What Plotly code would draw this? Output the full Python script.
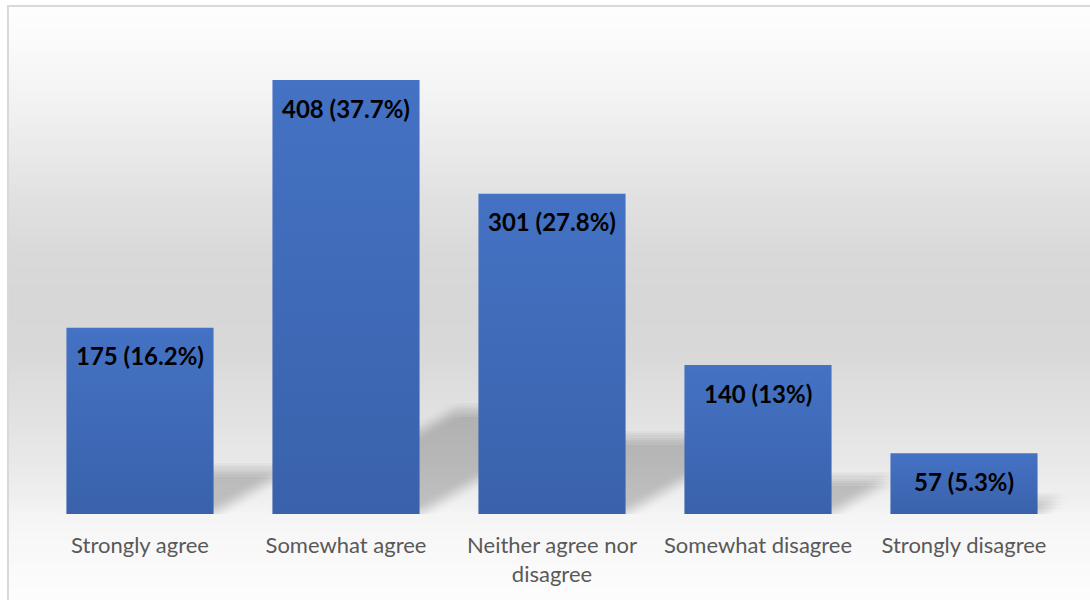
import base64
import struct
import zlib

import numpy as np
import plotly.graph_objects as go

# ---- data -------------------------------------------------------------
categories = [
    "Strongly agree",
    "Somewhat agree",
    "Neither agree nor<br>disagree",
    "Somewhat disagree",
    "Strongly disagree",
]
counts = [175, 408, 301, 140, 57]
percents = ["16.2%", "37.7%", "27.8%", "13%", "5.3%"]

# ---- geometry ---------------------------------------------------------
W, H = 1090, 600
ML, MR, MT, MB = 37, 23, 35, 86
PLOT_W = W - ML - MR
PLOT_H = H - MT - MB
Y_TOP = 450.3
PX_PER_UNIT = PLOT_H / Y_TOP
PX_PER_CAT = PLOT_W / 5.0
BAR_W = 0.714
BAR_COLOR = "#4472C4"


def png_data_uri(rgb):
    """Encode an (h, w, 3) uint8 array as a PNG data URI."""
    h, w, _ = rgb.shape
    raw = b"".join(b"\x00" + rgb[r].tobytes() for r in range(h))

    def chunk(tag, body):
        c = struct.pack(">I", len(body)) + tag + body
        return c + struct.pack(">I", zlib.crc32(tag + body) & 0xFFFFFFFF)

    png = (b"\x89PNG\r\n\x1a\n"
           + chunk(b"IHDR", struct.pack(">IIBBBBB", w, h, 8, 2, 0, 0, 0))
           + chunk(b"IDAT", zlib.compress(raw, 9))
           + chunk(b"IEND", b""))
    return "data:image/png;base64," + base64.b64encode(png).decode()


# soft vertical grey backdrop with a thin frame
ys = np.arange(H)
stops_y = [0, 6, 50, 100, 150, 200, 250, 300, 350, 400, 450, 500, 514, 540, 600]
stops_v = [255, 254, 250, 243, 234, 225, 218, 215, 217, 224, 231, 240, 245, 248, 253]
shade = np.interp(ys, stops_y, stops_v).astype(np.uint8)
bg = np.repeat(shade[:, None], W, axis=1)
bg = np.repeat(bg[:, :, None], 3, axis=2).copy()
bg[:5, :, :] = 255
bg[:, :7, :] = 255
bg[5:7, 7:, :] = 217
bg[5:, 7:9, :] = 217
backdrop = png_data_uri(bg)

fig = go.Figure()

# main bars
fig.add_trace(go.Bar(
    x=list(range(len(counts))),
    y=counts,
    width=BAR_W,
    marker=dict(color=BAR_COLOR, line=dict(width=0)),
    hoverinfo="skip",
    showlegend=False,
))

# darker toward the base of each bar
for i, v in enumerate(counts):
    hw = BAR_W / 2
    fig.add_trace(go.Scatter(
        x=[i - hw, i + hw, i + hw, i - hw, i - hw],
        y=[0, 0, v, v, 0],
        mode="none",
        fill="toself",
        fillgradient=dict(
            type="vertical",
            colorscale=[[0, "rgba(10,20,50,0.17)"], [1, "rgba(10,20,50,0)"]],
        ),
        hoverinfo="skip",
        showlegend=False,
    ))

# perspective shadows cast to the back-right, softened by stacking offset copies
shapes = []
offsets = np.linspace(-7, 7, 7)
alpha = 1 - (1 - 0.22) ** (1 / (len(offsets) ** 2))
for i, v in enumerate(counts):
    h_px = v * PX_PER_UNIT
    dx = 0.42 * h_px / PX_PER_CAT
    dy = 0.24 * v
    xl, xr = i - BAR_W / 2, i + BAR_W / 2
    for ox in offsets:
        for oy in offsets:
            sx = ox / PX_PER_CAT
            sy = oy / PX_PER_UNIT
            pts = [(xl + sx, 0 + sy), (xr + sx, 0 + sy),
                   (xr + dx + sx, dy + sy), (xl + dx + sx, dy + sy)]
            path = "M " + " L ".join(f"{px:.5f},{py:.4f}" for px, py in pts) + " Z"
            shapes.append(dict(
                type="path", path=path, xref="x", yref="y",
                fillcolor=f"rgba(0,0,0,{alpha:.5f})",
                line=dict(width=0), layer="below",
            ))

# value labels inside the top of each bar
annotations = []
for i, (v, p) in enumerate(zip(counts, percents)):
    annotations.append(dict(
        x=i, y=v, xref="x", yref="y",
        text=f"<b>{v} ({p})</b>",
        showarrow=False,
        yanchor="middle",
        yshift=-28,
        font=dict(family="Lato", size=24, color="#000000"),
    ))

fig.update_layout(
    width=W, height=H,
    margin=dict(l=ML, r=MR, t=MT, b=MB, pad=0),
    paper_bgcolor="#ffffff",
    plot_bgcolor="rgba(0,0,0,0)",
    bargap=0.286,
    showlegend=False,
    shapes=shapes,
    annotations=annotations,
    images=[dict(
        source=backdrop, xref="paper", yref="paper",
        x=-ML / PLOT_W, y=1 + MT / PLOT_H,
        sizex=W / PLOT_W, sizey=H / PLOT_H,
        xanchor="left", yanchor="top",
        sizing="stretch", layer="below",
    )],
    xaxis=dict(
        range=[-0.5, 4.5],
        tickvals=list(range(len(categories))),
        ticktext=categories,
        tickfont=dict(family="Lato", size=22, color="#595959"),
        showgrid=False, zeroline=False, showline=False, ticks="",
        ticklabelstandoff=16,
        fixedrange=True,
    ),
    yaxis=dict(range=[0, Y_TOP], visible=False, fixedrange=True),
)

fig.write_html("out.html")
